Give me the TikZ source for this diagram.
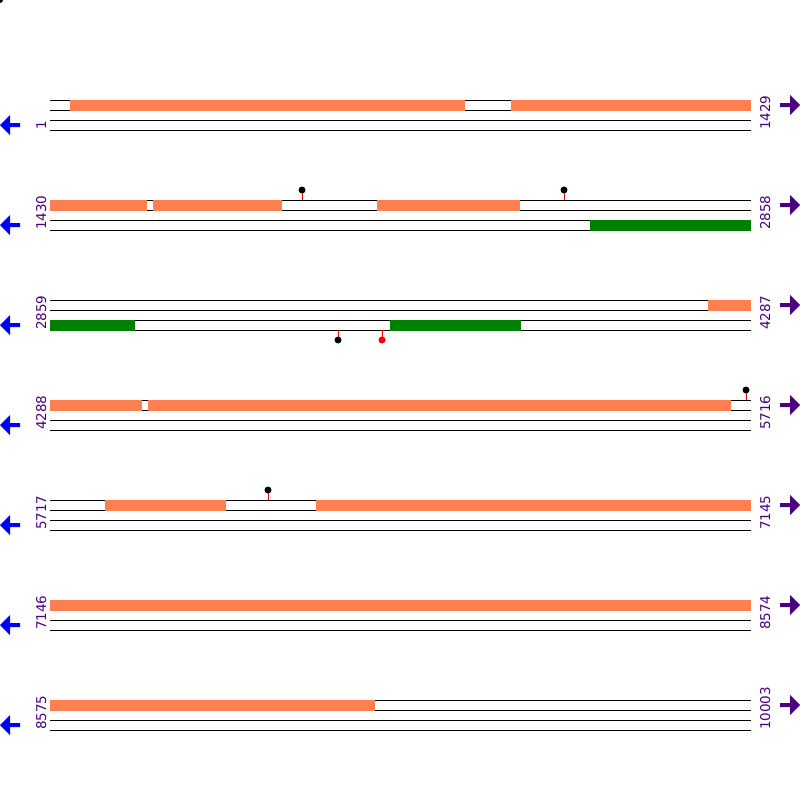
\documentclass[tikz,border=0pt]{standalone}
\usepackage{fontspec}
\setmainfont{DejaVu Sans}
\usetikzlibrary{positioning}

\definecolor{cdsorange}{RGB}{255,127,80}
\definecolor{orfgreen}{RGB}{0,128,0}
\definecolor{labelpurple}{RGB}{75,0,130}

\tikzset{
    strandline/.style={black, line width=1pt},
    fwdbox/.style={fill=cdsorange},
    revbox/.style={fill=orfgreen},
    poslabel/.style={rotate=90, anchor=base west, inner sep=0pt, text=labelpurple,
        font=\fontsize{13.5}{14}\selectfont},
    lollistick/.style={red, line width=1pt},
}

% marker above the top strand / below the bottom strand
\newcommand{\lollitop}[3]{%
    \draw[lollistick] (#1,#2) -- (#1,#2-10);
    \fill[#3] (#1,#2-10) circle (3.5);
}
\newcommand{\lollibot}[3]{%
    \draw[lollistick] (#1,#2) -- (#1,#2+10);
    \fill[#3] (#1,#2+10) circle (3.5);
}

\begin{document}
\begin{tikzpicture}[x=1pt, y=-1pt]
    \useasboundingbox (0,0) rectangle (800,800);
    \fill (0,0) circle (3);

    \foreach \r/\a/\b in {0/1/1429, 1/1430/2858, 2/2859/4287, 3/4288/5716,
                          4/5717/7145, 5/7146/8574, 6/8575/10003} {
        \pgfmathsetmacro\y{100+100*\r}
        \foreach \d in {0,10,20,30}
            \draw[strandline] (50,\y+\d) -- (751,\y+\d);
        \node[poslabel] (start\r) at (46,\y+30) {\a};
        \node[poslabel] (end\r) at (770,\y+30) {\b};
        % direction arrows
        \fill[blue] (0,\y+25) -- (10,\y+15) -- (10,\y+23) -- (20,\y+23)
            -- (20,\y+27) -- (10,\y+27) -- (10,\y+35) -- cycle;
        \fill[labelpurple] (800,\y+5) -- (790,\y-5) -- (790,\y+3) -- (780,\y+3)
            -- (780,\y+7) -- (790,\y+7) -- (790,\y+15) -- cycle;
    }

    % forward strand features
    \foreach \y/\s/\e in {100/70/465, 100/511/751,
                          200/50/147, 200/153/282, 200/377/520,
                          300/708/751,
                          400/50/142, 400/148/731,
                          500/105/226, 500/316/751,
                          600/50/751,
                          700/50/375}
        \fill[fwdbox] (\s,\y-0.5) rectangle (\e,\y+10.5);

    % reverse strand features
    \foreach \y/\s/\e in {220/590/751, 320/50/135, 320/390/521}
        \fill[revbox] (\s,\y-0.5) rectangle (\e,\y+10.5);

    % markers
    \lollitop{302}{200}{black}
    \lollitop{564}{200}{black}
    \lollitop{746}{400}{black}
    \lollitop{268}{500}{black}
    \lollibot{338}{330}{black}
    \lollibot{382}{330}{red}
\end{tikzpicture}
\end{document}
